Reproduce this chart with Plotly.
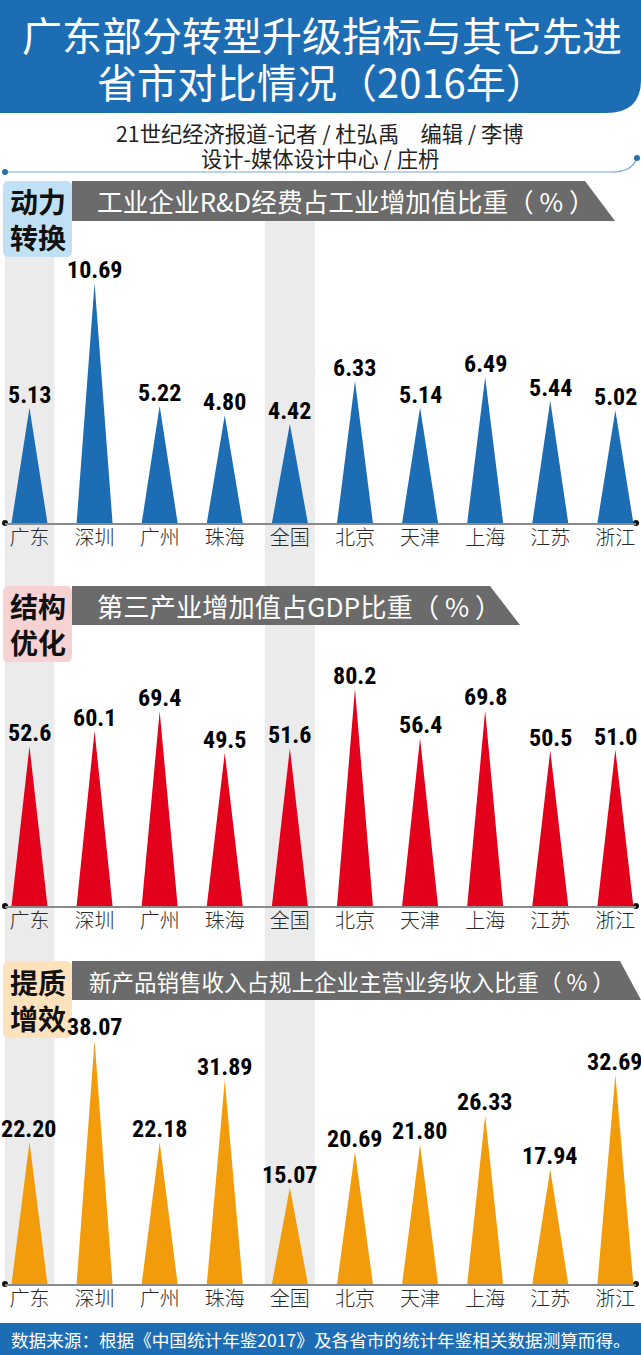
import plotly.graph_objects as go

W, H = 641, 1355

cities = ["广东", "深圳", "广州", "珠海", "全国", "北京", "天津", "上海", "江苏", "浙江"]
rd_share = [5.13, 10.69, 5.22, 4.80, 4.42, 6.33, 5.14, 6.49, 5.44, 5.02]
tertiary_share = [52.6, 60.1, 69.4, 49.5, 51.6, 80.2, 56.4, 69.8, 50.5, 51.0]
newprod_share = [22.20, 38.07, 22.18, 31.89, 15.07, 20.69, 21.80, 26.33, 17.94, 32.69]
rd_labels = ["5.13", "10.69", "5.22", "4.80", "4.42", "6.33", "5.14", "6.49", "5.44", "5.02"]
tertiary_labels = ["52.6", "60.1", "69.4", "49.5", "51.6", "80.2", "56.4", "69.8", "50.5", "51.0"]
newprod_labels = ["22.20", "38.07", "22.18", "31.89", "15.07", "20.69", "21.80", "26.33", "17.94", "32.69"]

title_lines = ["广东部分转型升级指标与其它先进", "省市对比情况（2016年）"]
credit_lines = ["21世纪经济报道-记者 / 杜弘禹　编辑 / 李博", "设计-媒体设计中心 / 庄枬"]
panel_titles = ["工业企业R&D经费占工业增加值比重（ % ）", "第三产业增加值占GDP比重（ % ）",
                "新产品销售收入占规上企业主营业务收入比重（ % ）"]
panel_tags = ["动力<br>转换", "结构<br>优化", "提质<br>增效"]
source_text = "数据来源：根据《中国统计年鉴2017》及各省市的统计年鉴相关数据测算而得。"

BLUE = "#1d6db5"
CJK = "Noto Sans CJK SC"
NUM = "Roboto Condensed, Roboto"


def px(x):
    return x / W


def py(y):
    return 1 - y / H


XR = [-0.376, 9.317]
XDOM = [px(5), px(636)]
HALF = 0.276

panels = [
    dict(v=rd_share, lab=rd_labels, col="#1d6db5", rng=[0, 12], base=523, k=22.45,
         htop=181, hbot=221, hr_top=585, hr_bot=615, tagcol="#bfe0f5", tagbot=257, tsize=25.7, tx=95),
    dict(v=tertiary_share, lab=tertiary_labels, col="#e3001b", rng=[-24.2, 90], base=906, k=2.08,
         htop=586, hbot=625, hr_top=490, hr_bot=520, tagcol="#f6d2d2", tagbot=662, tsize=26.3, tx=95),
    dict(v=newprod_share, lab=newprod_labels, col="#f39c0b", rng=[0, 45], base=1284, k=6.4,
         htop=961, hbot=1000, hr_top=620, hr_bot=641, tagcol="#fde2bb", tagbot=1038, tsize=22.5, tx=87),
]

fig = go.Figure()
layout_axes = {}
shapes = []
annotations = []

for ci in [0, 4]:
    shapes.append(dict(type="rect", xref="x", yref="paper", x0=ci - 0.384, x1=ci + 0.384,
                       y0=py(1284), y1=py(181), fillcolor="#ebebeb", line_width=0, layer="below"))

for n, p in enumerate(panels, start=1):
    r0, r1 = p["rng"]
    top = p["base"] - (r1 - r0) * p["k"]
    xs, ys = [], []
    for i, v in enumerate(p["v"]):
        xs += [i - HALF, i, i + HALF, None]
        ys += [r0, v, r0, None]
    xa = "x" if n == 1 else f"x{n}"
    ya = "y" if n == 1 else f"y{n}"
    fig.add_trace(go.Scatter(x=xs, y=ys, mode="lines", fill="toself", fillcolor=p["col"],
                             line=dict(width=0, color=p["col"]), xaxis=xa, yaxis=ya,
                             hoverinfo="skip", showlegend=False))
    fig.add_trace(go.Scatter(x=[XR[0], XR[1]], y=[r0, r0], mode="markers",
                             marker=dict(size=6, color="#111"), xaxis=xa, yaxis=ya,
                             cliponaxis=False, hoverinfo="skip", showlegend=False))
    layout_axes["xaxis" if n == 1 else f"xaxis{n}"] = dict(
        domain=XDOM, range=XR, anchor=ya, tickvals=list(range(len(cities))), ticktext=cities,
        ticks="", showgrid=False, zeroline=False, showline=True, linecolor="#8a8a8a", linewidth=1.5,
        tickfont=dict(family=CJK, size=20, color="#2a2a2a", weight=300), ticklabelstandoff=-4,
        fixedrange=True)
    layout_axes["yaxis" if n == 1 else f"yaxis{n}"] = dict(
        domain=[py(p["base"]), py(top)], range=[r0, r1], anchor=xa, visible=False, fixedrange=True)
    for i, (v, t) in enumerate(zip(p["v"], p["lab"])):
        annotations.append(dict(xref=xa, yref=ya, x=i, y=v, text=f"<b>{t}</b>", showarrow=False,
                                yanchor="middle", yshift=13,
                                font=dict(family=NUM, size=24, color="#000")))
    x0, y0, y1 = 72, p["htop"], p["hbot"]
    path = (f"M {px(x0)},{py(y0)} L {px(p['hr_top'])},{py(y0)} L {px(p['hr_bot'])},{py(y1)} "
            f"L {px(x0)},{py(y1)} Z")
    shapes.append(dict(type="path", xref="paper", yref="paper", path=path, fillcolor="#6b6b6b",
                       line_width=0, layer="below"))
    annotations.append(dict(xref="paper", yref="paper", x=px(p["tx"]), y=py((y0 + y1) / 2),
                            xanchor="left", yanchor="middle", text=panel_titles[n - 1], showarrow=False,
                            font=dict(family=CJK, size=p["tsize"], color="white")))
    bx0, bx1, by0, by1, r = 3, 72, p["htop"], p["tagbot"], 6
    tpath = (f"M {px(bx0 + r)},{py(by0)} L {px(bx1 - r)},{py(by0)} Q {px(bx1)},{py(by0)} {px(bx1)},{py(by0 + r)} "
             f"L {px(bx1)},{py(by1 - r)} Q {px(bx1)},{py(by1)} {px(bx1 - r)},{py(by1)} "
             f"L {px(bx0 + r)},{py(by1)} Q {px(bx0)},{py(by1)} {px(bx0)},{py(by1 - r)} "
             f"L {px(bx0)},{py(by0 + r)} Q {px(bx0)},{py(by0)} {px(bx0 + r)},{py(by0)} Z")
    shapes.append(dict(type="path", xref="paper", yref="paper", path=tpath, fillcolor=p["tagcol"],
                       line_width=0, layer="below"))
    annotations.append(dict(xref="paper", yref="paper", x=px(37.5), y=py((by0 + by1) / 2),
                            xanchor="center", yanchor="middle", text=f"<b>{panel_tags[n - 1]}</b>",
                            showarrow=False, font=dict(family=CJK, size=28, color="#111")))

tb = (f"M 0,1 L 1,1 L 1,{py(80)} Q 1,{py(113)} {px(606)},{py(113)} L 0,{py(113)} Z")
shapes.append(dict(type="path", xref="paper", yref="paper", path=tb, fillcolor=BLUE, line_width=0,
                   layer="below"))
for txt, yy in zip(title_lines, [34, 81]):
    annotations.append(dict(xref="paper", yref="paper", x=px(322), y=py(yy), text=txt,
                            showarrow=False, xanchor="center", yanchor="middle", height=46,
                            font=dict(family=CJK, size=40, color="white")))
for txt, yy in zip(credit_lines, [132, 158]):
    annotations.append(dict(xref="paper", yref="paper", x=px(320), y=py(yy), text=txt,
                            showarrow=False, xanchor="center", yanchor="middle", height=25,
                            font=dict(family=CJK, size=21.3, color="#222")))
dv = f"M {px(5)},{py(172)} L {px(612)},{py(172)} Q {px(632)},{py(172)} {px(637)},{py(158)}"
shapes.append(dict(type="path", xref="paper", yref="paper", path=dv, line=dict(color="#7aa6cf", width=1.2),
                   layer="below"))
for (cx, cy) in [(5, 172), (637, 158)]:
    shapes.append(dict(type="circle", xref="paper", yref="paper", x0=px(cx - 3), x1=px(cx + 3),
                       y0=py(cy + 3), y1=py(cy - 3), fillcolor="#2a6fb3", line_width=0, layer="below"))
shapes.append(dict(type="rect", xref="paper", yref="paper", x0=0, x1=1, y0=0, y1=py(1323),
                   fillcolor=BLUE, line_width=0, layer="below"))
annotations.append(dict(xref="paper", yref="paper", x=px(321), y=py(1339), text=source_text,
                        showarrow=False, xanchor="center", yanchor="middle",
                        font=dict(family=CJK, size=17.6, color="white")))

fig.update_layout(width=W, height=H, margin=dict(l=0, r=0, t=0, b=0), autosize=False,
                  paper_bgcolor="white", plot_bgcolor="rgba(0,0,0,0)", showlegend=False,
                  shapes=shapes, annotations=annotations, **layout_axes)

fig.write_html("out.html", config={"displayModeBar": False})
